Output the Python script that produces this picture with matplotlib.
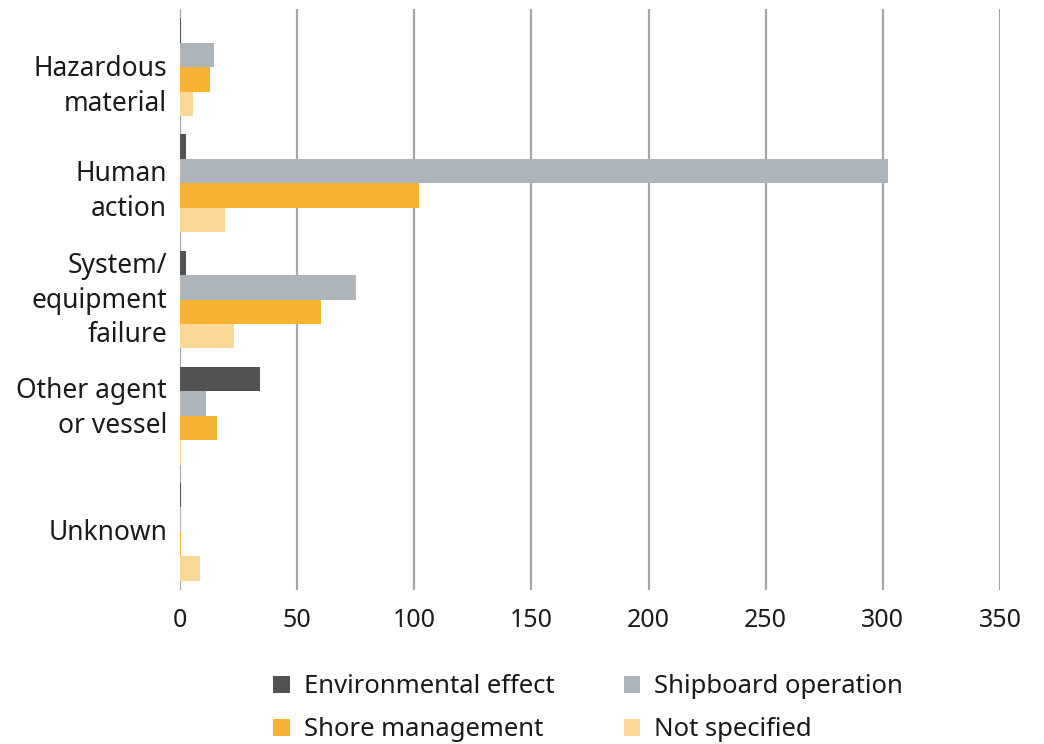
import matplotlib
matplotlib.use("Agg")
import matplotlib.pyplot as plt
from matplotlib.patches import Patch
import numpy as np

plt.rcParams['font.family'] = ['Noto Sans', 'DejaVu Sans']

categories = ["Hazardous\nmaterial", "Human\naction", "System/\nequipment\nfailure",
              "Other agent\nor vessel", "Unknown"]
series_names = ["Environmental effect", "Shipboard operation", "Shore management", "Not specified"]
environmental = [0.4, 2.5, 2.5, 34, 0.4]
shipboard = [14.5, 302, 75, 11, 0.3]
shore = [12.8, 102, 60, 16, 0.4]
not_specified = [5.5, 19, 23, 0.4, 8.5]
xticks = [0, 50, 100, 150, 200, 250, 300, 350]

colors = ["#525252", "#adb4ba", "#f7b333", "#fcd898"]
series = [environmental, shipboard, shore, not_specified]

fig = plt.figure(figsize=(10.44, 7.44), dpi=100)
ax = fig.add_axes([180/1044, 1-590/744, (1000-180)/1044, (590-9)/744])

n = len(categories)
y = np.arange(n)
h = 0.843 / 4
for k, (vals, c) in enumerate(zip(series, colors)):
    ax.barh(y + (k - 1.5) * h, vals, height=h, color=c, zorder=3, linewidth=0)

ax.set_ylim(n - 0.5, -0.5)
ax.set_xlim(0, 350)
ax.set_xticks(xticks)
ax.set_xticklabels([str(t) for t in xticks])
ax.set_yticks(y)
ax.set_yticklabels([])
for s in ax.spines.values():
    s.set_visible(False)
ax.grid(axis='x', color='#a6a6a6', linewidth=1.6, zorder=0)
ax.grid(axis='y', visible=False)
ax.tick_params(axis='both', length=0, labelsize=18, colors='#1a1a1a')
ax.tick_params(axis='x', pad=13)

# category labels (slight vertical nudges as in the original layout)
label_shift = [0.17, 0.07, 0.01, -0.06, 0.01]
for i, lab in enumerate(categories):
    ax.text(-13 / 2.343, y[i] + label_shift[i], lab, ha='right', va='center',
            fontsize=19, color='#1a1a1a', linespacing=1.32)

handles = [Patch(facecolor=colors[i], edgecolor='none') for i in [0, 2, 1, 3]]
labels = [series_names[i] for i in [0, 2, 1, 3]]
fig.legend(handles, labels, ncol=2, loc='upper left', bbox_to_anchor=(263/1044, 1-664/744),
           frameon=False, fontsize=18.5, handlelength=0.64, handleheight=0.64,
           handletextpad=0.55, columnspacing=2.7, labelspacing=0.7,
           labelcolor='#1a1a1a', borderaxespad=0)

fig.savefig("out.png", dpi=100)
